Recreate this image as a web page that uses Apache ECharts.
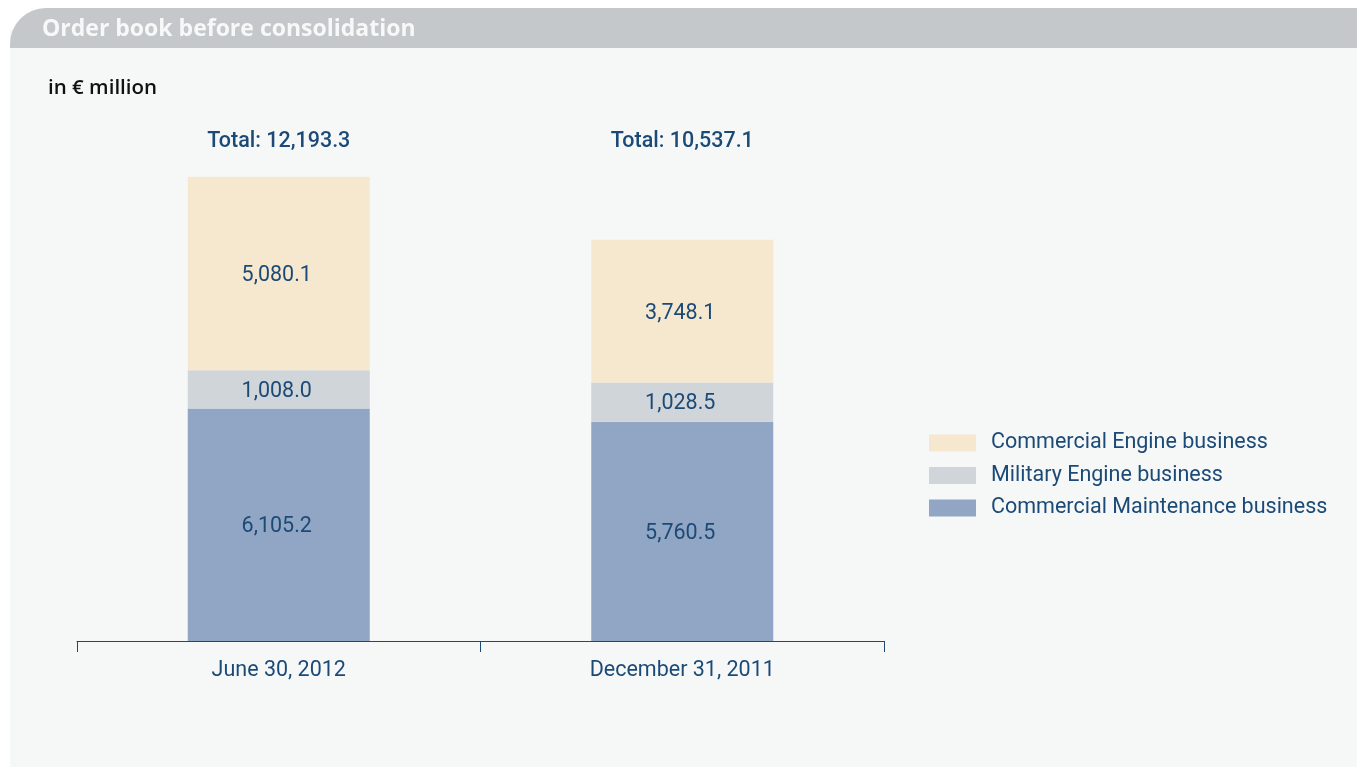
<!DOCTYPE html>
<html>
<head>
<meta charset="utf-8">
<script src="https://cdn.jsdelivr.net/npm/echarts@6/dist/echarts.min.js"></script>
<style>
html,body{margin:0;padding:0;background:#ffffff;}
#chart{width:1357px;height:767px;}
</style>
</head>
<body>
<div id="chart"></div>
<script>
const categories = ['June 30, 2012', 'December 31, 2011'];
const maintenance = [6105.2, 5760.5];
const military = [1008.0, 1028.5];
const commercialEngine = [5080.1, 3748.1];
const totals = ['12,193.3', '10,537.1'];
const seriesNames = ['Commercial Maintenance business', 'Military Engine business', 'Commercial Engine business'];
const colors = ['#91a6c4', '#d0d5d9', '#f5e8cf'];

const textColor = '#1c4a77';
const fmt = v => Number(v).toLocaleString('en-US', {minimumFractionDigits: 1, maximumFractionDigits: 1});

const chart = echarts.init(document.getElementById('chart'));
const segLabel = {
  show: true, position: 'inside', color: textColor, fontSize: 21.5, offset: [-2, 2],
  fontFamily: 'Roboto', formatter: p => fmt(p.value)
};
const option = {
  backgroundColor: '#ffffff',
  animation: false,
  graphic: [
    {type: 'rect', shape: {x: 10, y: 30, width: 1347, height: 737}, style: {fill: '#f6f8f8'}, z: -10},
    {type: 'rect', shape: {x: 10, y: 8, width: 1347, height: 40, r: [36, 0, 0, 0]}, style: {fill: '#c4c8cb'}, z: -9},
    {type: 'text', x: 42, y: 29, style: {text: 'Order book before consolidation', fill: '#f7f8f8', font: 'bold 23px "Open Sans"', textVerticalAlign: 'middle'}},
    {type: 'text', x: 48, y: 88, style: {text: 'in € million', fill: '#111111', font: '600 20.5px "Open Sans"', textVerticalAlign: 'middle'}}
  ],
  legend: {
    orient: 'vertical', left: 929, top: 432, padding: 0,
    data: [seriesNames[2], seriesNames[1], seriesNames[0]],
    itemWidth: 47, itemHeight: 17, itemGap: 10.5,
    icon: 'rect',
    textStyle: {color: textColor, fontSize: 21.5, fontFamily: 'Roboto', padding: [0, 0, 0, 10], lineHeight: 20}
  },
  grid: {left: 77, right: 473, top: 108, bottom: 126},
  xAxis: [{
    type: 'category', data: categories,
    axisLine: {lineStyle: {color: '#1c4a77', width: 1}},
    axisTick: {show: true, length: 11, lineStyle: {color: '#1c4a77'}},
    axisLabel: {color: textColor, fontSize: 21.5, fontFamily: 'Roboto', margin: 19}
  }, {
    type: 'category', data: categories, position: 'top',
    axisLine: {show: false}, axisTick: {show: false},
    axisLabel: {inside: true, margin: 23, color: textColor, fontSize: 21.5, fontWeight: 500, fontFamily: 'Roboto',
      formatter: (v, i) => 'Total: ' + totals[i]}
  }],
  yAxis: {type: 'value', min: 0, max: 14000, show: false, splitLine: {show: false}},
  series: [
    {name: seriesNames[0], type: 'bar', stack: 'a', data: maintenance, barWidth: 182, itemStyle: {color: colors[0]}, label: segLabel},
    {name: seriesNames[1], type: 'bar', stack: 'a', data: military, itemStyle: {color: colors[1]}, label: segLabel},
    {name: seriesNames[2], type: 'bar', stack: 'a', data: commercialEngine, itemStyle: {color: colors[2]}, label: segLabel}
  ]
};
chart.setOption(option);
</script>
</body>
</html>
